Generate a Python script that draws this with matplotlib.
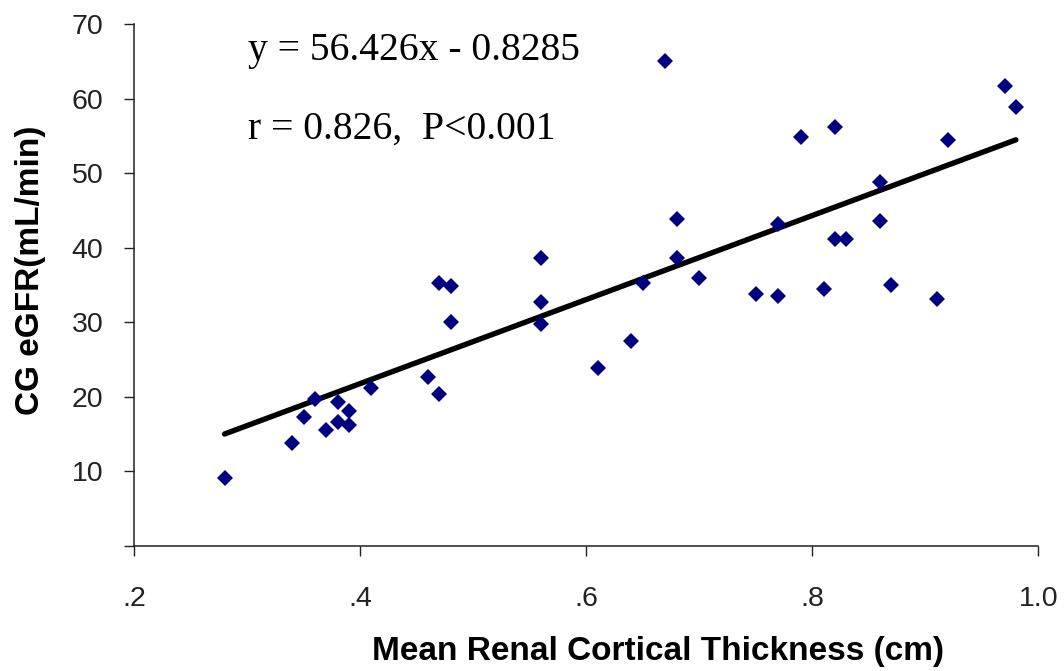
import numpy as np
import matplotlib
matplotlib.use("Agg")
import matplotlib.pyplot as plt

# mean renal cortical thickness (cm) vs CG eGFR (mL/min)
thickness = [0.28, 0.34, 0.35, 0.36, 0.37, 0.38, 0.38, 0.39, 0.39, 0.41,
             0.46, 0.47, 0.47, 0.48, 0.48, 0.56, 0.56, 0.56, 0.61, 0.64,
             0.65, 0.68, 0.68, 0.70, 0.75, 0.77, 0.77, 0.79, 0.81, 0.82,
             0.82, 0.83, 0.86, 0.86, 0.87, 0.91, 0.92, 0.97, 0.98, 0.67]
egfr = [9.0, 13.8, 17.3, 19.7, 15.5, 19.3, 16.6, 18.1, 16.2, 21.2,
        22.6, 20.4, 35.3, 34.9, 30.0, 38.6, 32.7, 29.7, 23.8, 27.4,
        35.3, 43.9, 38.6, 35.9, 33.8, 43.2, 33.5, 54.8, 34.4, 56.2,
        41.2, 41.2, 48.8, 43.6, 35.0, 33.1, 54.4, 61.7, 58.9, 65.0]

slope = 56.426
intercept = -0.8285

x_ticks = [0.2, 0.4, 0.6, 0.8, 1.0]
x_tick_labels = ['.2', '.4', '.6', '.8', '1.0']
y_ticks = [0, 10, 20, 30, 40, 50, 60, 70]
y_tick_labels = ['', '10', '20', '30', '40', '50', '60', '70']


def plot_scatter():
    fig = plt.figure(figsize=(10.64, 6.71), dpi=100)
    ax = fig.add_axes([0.126, 0.187, 0.850, 0.777])

    ax.plot(thickness, egfr, linestyle='none', marker='D', markersize=8.6,
            color='#000080', markeredgewidth=0, zorder=3)

    x_fit = np.array([min(thickness), max(thickness)])
    ax.plot(x_fit, slope * x_fit + intercept, color='black', linewidth=3.9,
            solid_capstyle='round', zorder=2)

    ax.set_xlim(0.2, 1.0)
    ax.set_ylim(0, 70)
    ax.set_xticks(x_ticks)
    ax.set_xticklabels(x_tick_labels)
    ax.set_yticks(y_ticks)
    ax.set_yticklabels(y_tick_labels)

    for side in ['top', 'right']:
        ax.spines[side].set_visible(False)
    for side in ['left', 'bottom']:
        ax.spines[side].set_linewidth(1.1)
        ax.spines[side].set_color('#222222')

    ax.tick_params(axis='both', direction='out', length=7, width=1.0,
                   color='#222222', labelsize=20.5, labelcolor='#222222')
    ax.tick_params(axis='x', pad=22)
    ax.tick_params(axis='y', pad=15)
    for lbl in ax.get_xticklabels() + ax.get_yticklabels():
        lbl.set_family('Liberation Sans')

    ax.set_xlabel('Mean Renal Cortical Thickness (cm)', fontsize=24,
                  fontweight='bold', family='Liberation Sans', va='center')
    ax.xaxis.set_label_coords(0.579, -0.204)
    ax.set_ylabel('CG eGFR(mL/min)', fontsize=24, fontweight='bold',
                  family='Liberation Sans', va='center')
    ax.yaxis.set_label_coords(-0.115, 0.528)

    ax.text(0.126, 0.931, 'y = 56.426x - 0.8285', transform=ax.transAxes,
            fontsize=28.5, family='Liberation Serif', va='baseline', ha='left')
    ax.text(0.126, 0.781, 'r = 0.826,  P<0.001', transform=ax.transAxes,
            fontsize=28.5, family='Liberation Serif', va='baseline', ha='left')

    fig.savefig('out.png', dpi=100)


def main():
    plot_scatter()


if __name__ == "__main__":
    main()
